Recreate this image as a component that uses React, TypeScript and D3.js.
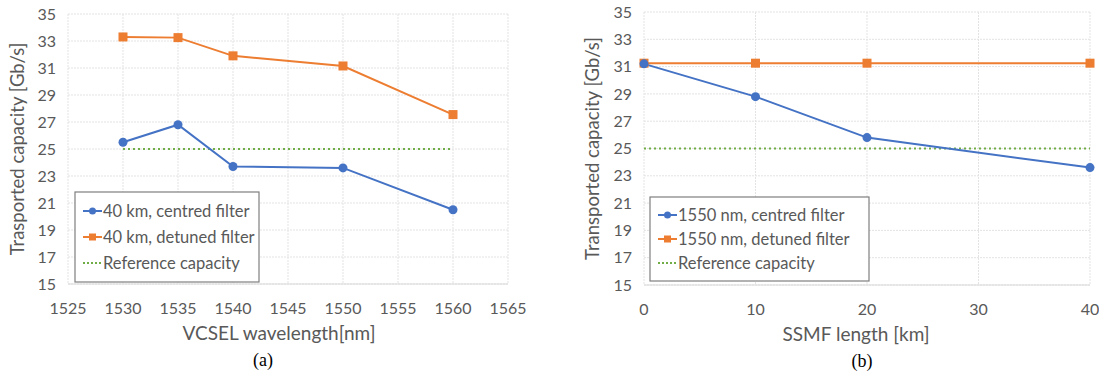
import * as d3 from "d3";
import React from "react";

// panel (a): VCSEL wavelength sweep, 40 km
const wavelengths = [1530, 1535, 1540, 1550, 1560];
const centredA = [25.5, 26.8, 23.7, 23.6, 20.5];
const detunedA = [33.3, 33.25, 31.9, 31.15, 27.55];

// panel (b): SSMF length sweep at 1550 nm
const lengths = [0, 10, 20, 40];
const centredB = [31.2, 28.8, 25.8, 23.6];
const detunedB = [31.25, 31.25, 31.25, 31.25];

const referenceCapacity = 25;
const yTicks = [15, 17, 19, 21, 23, 25, 27, 29, 31, 33, 35];
const xTicksA = [1525, 1530, 1535, 1540, 1545, 1550, 1555, 1560, 1565];
const xTicksB = [0, 10, 20, 30, 40];

const BLUE = "#4472C4";
const ORANGE = "#ED7D31";
const GREEN = "#70AD47";
const TEXT = "#595959";
const FONT = "Lato, 'Open Sans', sans-serif";

type PanelProps = {
  xs: number[];
  centred: number[];
  detuned: number[];
  xDomain: [number, number];
  xTicks: number[];
  left: number;
  right: number;
  top: number;
  bottom: number;
  yTitle: string;
  yTitleX: number;
  xTitle: string;
  xTitleX: number;
  caption: string;
  captionX: number;
  legendLabels: string[];
  legend: { x: number; y: number; w: number; h: number };
};

const Panel: React.FC<PanelProps> = (p) => {
  const x = d3.scaleLinear().domain(p.xDomain).range([p.left, p.right]);
  const y = d3.scaleLinear().domain([15, 35]).range([p.bottom, p.top]);
  const line = d3
    .line<number>()
    .x((_, i) => x(p.xs[i]))
    .y((d) => y(d));
  const xs = p.xs;
  const lg = p.legend;
  const rowH = (lg.h - 12) / 3;

  return (
    <g>
      {/* grid */}
      {yTicks.map((t) => (
        <line
          key={"gy" + t}
          x1={p.left}
          x2={p.right}
          y1={y(t)}
          y2={y(t)}
          stroke="#e3e3e3"
          strokeDasharray="2,1"
        />
      ))}
      {p.xTicks.map((t) => (
        <line
          key={"gx" + t}
          x1={x(t)}
          x2={x(t)}
          y1={p.top}
          y2={p.bottom}
          stroke="#e3e3e3"
          strokeDasharray="2,1"
        />
      ))}
      <line x1={p.left} x2={p.right} y1={p.bottom} y2={p.bottom} stroke="#d9d9d9" />

      {/* tick labels */}
      {yTicks.map((t) => (
        <text
          key={"ly" + t}
          x={p.left - 12}
          y={y(t)}
          dy="0.35em"
          textAnchor="end"
          fontSize={16}
          fill={TEXT}
        >
          {t}
        </text>
      ))}
      {p.xTicks.map((t) => (
        <text
          key={"lx" + t}
          x={x(t)}
          y={p.bottom + 24}
          dy="0.35em"
          textAnchor="middle"
          fontSize={16}
          fill={TEXT}
        >
          {t}
        </text>
      ))}

      {/* titles */}
      <text
        transform={`translate(${p.yTitleX},${(p.top + p.bottom) / 2}) rotate(-90)`}
        textAnchor="middle"
        dy="0.35em"
        fontSize={18.5}
        fill={TEXT}
      >
        {p.yTitle}
      </text>
      <text x={p.xTitleX} y={p.bottom + 49} dy="0.35em" textAnchor="middle" fontSize={19} fill={TEXT}>
        {p.xTitle}
      </text>
      <text
        x={p.captionX}
        y={p.bottom + 76}
        dy="0.35em"
        textAnchor="middle"
        fontSize={18}
        fontFamily="'Liberation Serif', 'DejaVu Serif', serif"
        fill="#000"
      >
        {p.caption}
      </text>

      {/* reference */}
      <line
        x1={x(xs[0])}
        x2={x(xs[xs.length - 1])}
        y1={y(referenceCapacity)}
        y2={y(referenceCapacity)}
        stroke={GREEN}
        strokeWidth={2}
        strokeDasharray="2,3"
      />

      {/* series */}
      <path d={line(p.detuned) ?? ""} fill="none" stroke={ORANGE} strokeWidth={2} />
      <path d={line(p.centred) ?? ""} fill="none" stroke={BLUE} strokeWidth={2} />
      {p.detuned.map((v, i) => (
        <rect key={"sq" + i} x={x(xs[i]) - 4.5} y={y(v) - 4.5} width={9} height={9} fill={ORANGE} />
      ))}
      {p.centred.map((v, i) => (
        <circle key={"ci" + i} cx={x(xs[i])} cy={y(v)} r={4.5} fill={BLUE} />
      ))}

      {/* legend */}
      <rect x={lg.x} y={lg.y} width={lg.w} height={lg.h} fill="#fff" stroke="#7f7f7f" strokeWidth={1.2} />
      {p.legendLabels.map((lab, i) => {
        const cy = lg.y + 6 + rowH * (i + 0.5);
        const lx0 = lg.x + 8;
        const lx1 = lx0 + 19;
        return (
          <g key={"lg" + i}>
            {i === 0 && (
              <>
                <line x1={lx0} x2={lx1} y1={cy} y2={cy} stroke={BLUE} strokeWidth={2} />
                <circle cx={(lx0 + lx1) / 2} cy={cy} r={3.5} fill={BLUE} />
              </>
            )}
            {i === 1 && (
              <>
                <line x1={lx0} x2={lx1} y1={cy} y2={cy} stroke={ORANGE} strokeWidth={2} />
                <rect x={(lx0 + lx1) / 2 - 3.5} y={cy - 3.5} width={7} height={7} fill={ORANGE} />
              </>
            )}
            {i === 2 && (
              <line x1={lx0} x2={lx1} y1={cy} y2={cy} stroke={GREEN} strokeWidth={2} strokeDasharray="2,2" />
            )}
            <text x={lx1 + 1} y={cy} dy="0.35em" fontSize={16.5} fill={TEXT}>
              {lab}
            </text>
          </g>
        );
      })}
    </g>
  );
};

export default function App() {
  return (
    <svg
      width={1099}
      height={373}
      style={{ position: "absolute", left: 0, top: 0, background: "#fff" }}
      fontFamily={FONT}
    >
      <rect width={1099} height={373} fill="#fff" />
      <Panel
        xs={wavelengths}
        centred={centredA}
        detuned={detunedA}
        xDomain={[1525, 1565]}
        xTicks={xTicksA}
        left={68}
        right={508}
        top={14}
        bottom={284}
        yTitle="Trasported capacity [Gb/s]"
        yTitleX={18}
        xTitle="VCSEL wavelength[nm]"
        xTitleX={279}
        caption="(a)"
        captionX={263}
        legendLabels={["40 km, centred filter", "40 km, detuned filter", "Reference capacity"]}
        legend={{ x: 75, y: 192, w: 184, h: 90 }}
      />
      <Panel
        xs={lengths}
        centred={centredB}
        detuned={detunedB}
        xDomain={[0, 40]}
        xTicks={xTicksB}
        left={644}
        right={1090}
        top={12}
        bottom={285}
        yTitle="Transported capacity [Gb/s]"
        yTitleX={593}
        xTitle="SSMF length [km]"
        xTitleX={856}
        caption="(b)"
        captionX={862}
        legendLabels={["1550 nm, centred filter", "1550 nm, detuned filter", "Reference capacity"]}
        legend={{ x: 650, y: 197, w: 219, h: 84 }}
      />
    </svg>
  );
}
